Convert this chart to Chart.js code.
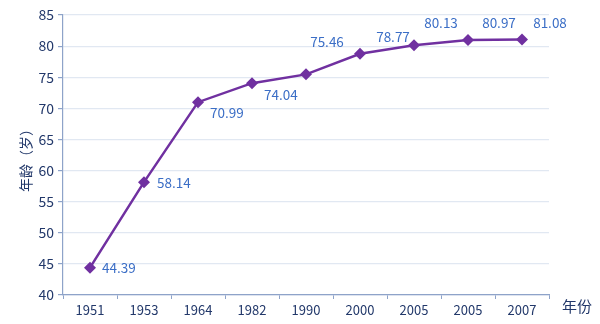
<!DOCTYPE html>
<html>
<head>
<meta charset="utf-8">
<script src="https://cdn.jsdelivr.net/npm/chart.js@4/dist/chart.umd.min.js"></script>
<style>
  html, body { margin: 0; padding: 0; background: #ffffff; }
  #wrap { width: 600px; height: 324px; position: relative; }
</style>
</head>
<body>
<div id="wrap"><canvas id="c"></canvas></div>
<script>
// 年份与平均寿命
const years = ['1951', '1953', '1964', '1982', '1990', '2000', '2005', '2005', '2007'];
const ages = [44.39, 58.14, 70.99, 74.04, 75.46, 78.77, 80.13, 80.97, 81.08];
const yTicks = [40, 45, 50, 55, 60, 65, 70, 75, 80, 85];
const yTitle = '年龄（岁）';
const xTitle = '年份';

// where each value label sits relative to its point (px)
const labelOffsets = [
  [12, 0, 'left'], [13, 1, 'left'], [12, 11, 'left'], [12, 12, 'left'],
  [21, -32, 'center'], [33, -17, 'center'], [27, -22, 'center'],
  [31, -17, 'center'], [28, -17, 'center']
];

const FONT = '"Noto Sans CJK SC", "Noto Sans", sans-serif';
const navy = '#22386a';
const labelBlue = '#3b6ec6';
const axisColor = '#8ea3c9';
const gridColor = '#e1e8f2';

const valueLabels = {
  id: 'valueLabels',
  afterDatasetsDraw(chart) {
    const ctx = chart.ctx;
    const meta = chart.getDatasetMeta(0);
    ctx.save();
    ctx.font = '13.5px ' + FONT;
    ctx.fillStyle = labelBlue;
    ctx.textBaseline = 'middle';
    meta.data.forEach((pt, i) => {
      const [dx, dy, align] = labelOffsets[i];
      ctx.textAlign = align;
      ctx.fillText(ages[i].toFixed(2), pt.x + dx, pt.y + dy);
    });
    ctx.restore();
  }
};

const axisTitles = {
  id: 'axisTitles',
  afterDraw(chart) {
    const ctx = chart.ctx;
    const y = chart.scales.y;
    ctx.save();
    ctx.fillStyle = navy;
    ctx.font = '14px ' + FONT;
    ctx.textAlign = 'center';
    ctx.textBaseline = 'middle';
    ctx.translate(26, (y.top + y.bottom) / 2 + 2);
    ctx.rotate(-Math.PI / 2);
    ctx.fillText(yTitle, 0, 0);
    ctx.restore();
    ctx.save();
    ctx.fillStyle = navy;
    ctx.font = '15px ' + FONT;
    ctx.textAlign = 'center';
    ctx.textBaseline = 'middle';
    ctx.fillText(xTitle, 577, 306);
    ctx.restore();
  }
};

new Chart(document.getElementById('c'), {
  type: 'line',
  data: {
    labels: years,
    datasets: [{
      data: ages,
      borderColor: '#7030a0',
      backgroundColor: '#7030a0',
      borderWidth: 2.5,
      pointStyle: 'rectRot',
      pointRadius: 6,
      pointHoverRadius: 6,
      pointBorderWidth: 0,
      tension: 0
    }]
  },
  options: {
    responsive: true,
    maintainAspectRatio: false,
    animation: false,
    layout: { padding: { top: 15, right: 51, bottom: 0, left: 0 } },
    plugins: { legend: { display: false }, tooltip: { enabled: false } },
    scales: {
      x: {
        offset: true,
        grid: {
          offset: true,
          drawOnChartArea: false,
          drawTicks: true,
          tickLength: 4,
          tickColor: axisColor
        },
        border: { color: axisColor, width: 1.2 },
        ticks: {
          color: navy,
          font: { family: FONT, size: 13 },
          padding: 3,
          maxRotation: 0,
          autoSkip: false
        },
        afterFit(scale) { scale.height = 29; }
      },
      y: {
        min: 40,
        max: 85,
        afterBuildTicks(scale) { scale.ticks = yTicks.map(v => ({ value: v })); },
        grid: {
          color: gridColor,
          lineWidth: 1.2,
          drawTicks: true,
          tickLength: 5,
          tickColor: axisColor
        },
        border: { color: axisColor, width: 1.2 },
        ticks: {
          color: navy,
          font: { family: FONT, size: 14 },
          padding: 4
        },
        afterFit(scale) { scale.width = 63; }
      }
    }
  },
  plugins: [valueLabels, axisTitles]
});
</script>
</body>
</html>
